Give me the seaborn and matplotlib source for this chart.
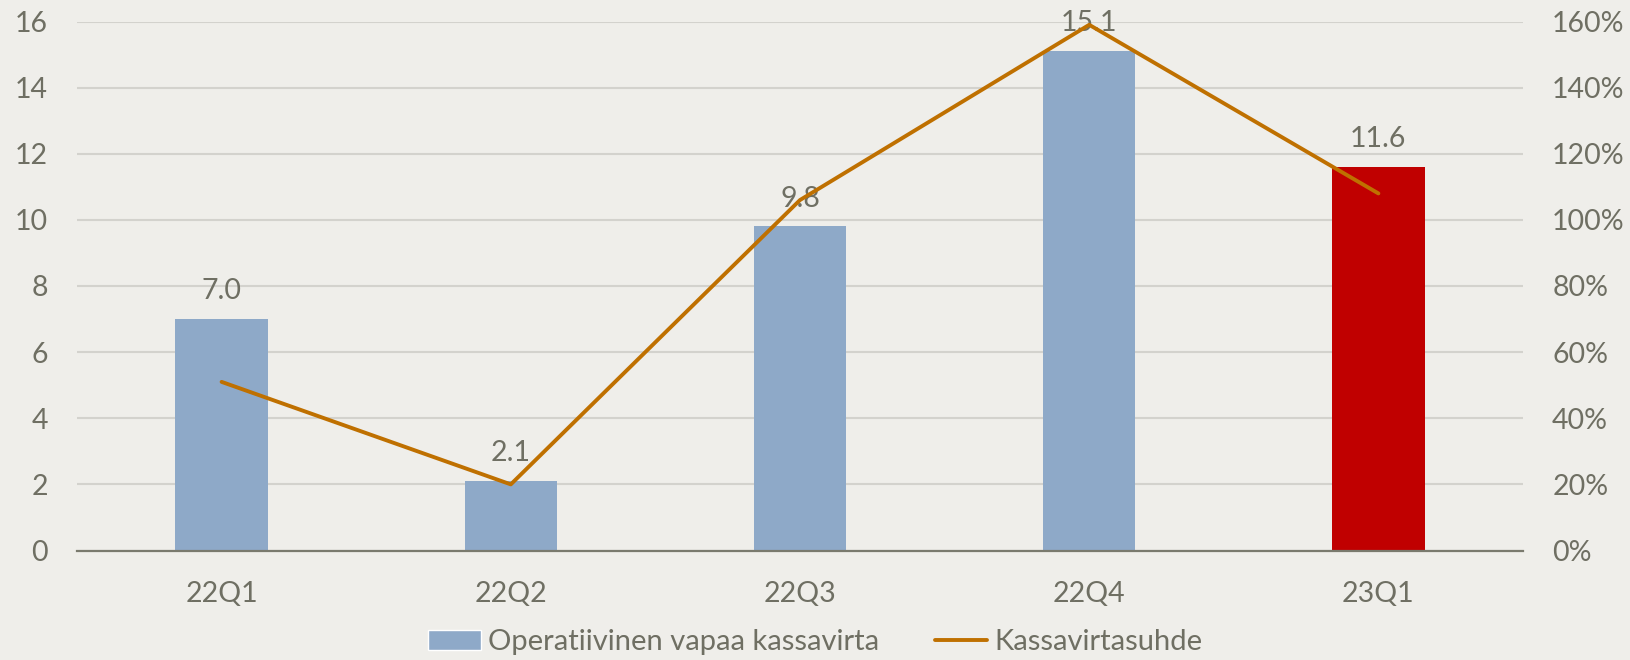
import numpy as np
import matplotlib
matplotlib.use('Agg')
import matplotlib.pyplot as plt
import seaborn as sns
from matplotlib.patches import Patch
from matplotlib.lines import Line2D
from matplotlib.ticker import PercentFormatter

# Data
quarters = ['22Q1', '22Q2', '22Q3', '22Q4', '23Q1']
fcf = [7.0, 2.1, 9.8, 15.1, 11.6]
cash_ratio = [51, 20, 106, 159, 108]  # %
bar_colors = ['#8EA9C8', '#8EA9C8', '#8EA9C8', '#8EA9C8', '#C00000']
bar_label = 'Operatiivinen vapaa kassavirta'
line_label = 'Kassavirtasuhde'

bg = '#EFEEEA'
txt = '#6F6F63'
line_col = '#BF7000'

sns.set_style('white')
plt.rcParams['font.family'] = ['Lato', 'DejaVu Sans']
plt.rcParams['text.color'] = txt
plt.rcParams['xtick.color'] = txt
plt.rcParams['ytick.color'] = txt

fig = plt.figure(figsize=(16.31, 6.6), dpi=100, facecolor=bg)
ax = fig.add_axes([77 / 1631, 1 - 550.5 / 660, 1446 / 1631, 529 / 660])
ax.set_facecolor(bg)

sns.barplot(x=quarters, y=fcf, hue=quarters, palette=bar_colors, legend=False,
            width=0.32, ax=ax, saturation=1, linewidth=0, zorder=2)
ax.set_xlim(-0.5, 4.5)
ax.set_ylim(0, 16)
ax.set_yticks(range(0, 17, 2))
ax.yaxis.grid(True, color='#D3D2CD', linewidth=1.5, zorder=0)
ax.set_axisbelow(True)
for s in ['top', 'right', 'left']:
    ax.spines[s].set_visible(False)
ax.spines['bottom'].set_color('#7A7A6E')
ax.spines['bottom'].set_linewidth(1.6)
ax.tick_params(axis='y', length=0, pad=21, labelsize=20.5)
ax.tick_params(axis='x', length=0, pad=22, labelsize=20.5)
ax.set_xlabel('')
ax.set_ylabel('')

# value labels above the bars
for i, v in enumerate(fcf):
    ax.text(i, v + 0.45, f'{v:.1f}', ha='center', va='bottom', fontsize=20.5, color=txt, zorder=5)

ax2 = ax.twinx()
sns.lineplot(x=np.arange(len(quarters)), y=cash_ratio, color=line_col, linewidth=2.8, ax=ax2, zorder=4)
ax2.set_ylim(0, 160)
ax2.set_yticks(range(0, 161, 20))
ax2.yaxis.set_major_formatter(PercentFormatter(decimals=0))
ax2.tick_params(axis='y', length=0, pad=21, labelsize=20.5)
for s in ax2.spines.values():
    s.set_visible(False)
ax2.set_xlim(-0.5, 4.5)

handles = [Patch(facecolor='#8EA9C8', label=bar_label),
           Line2D([0], [0], color=line_col, linewidth=2.8, label=line_label)]
fig.legend(handles=handles, loc='center', bbox_to_anchor=(0.5, 1 - 642 / 660), ncol=2,
           frameon=False, fontsize=21, handlelength=1.8, handleheight=0.7,
           columnspacing=1.9, handletextpad=0.25)

fig.savefig('out.png', dpi=100, facecolor=bg)
